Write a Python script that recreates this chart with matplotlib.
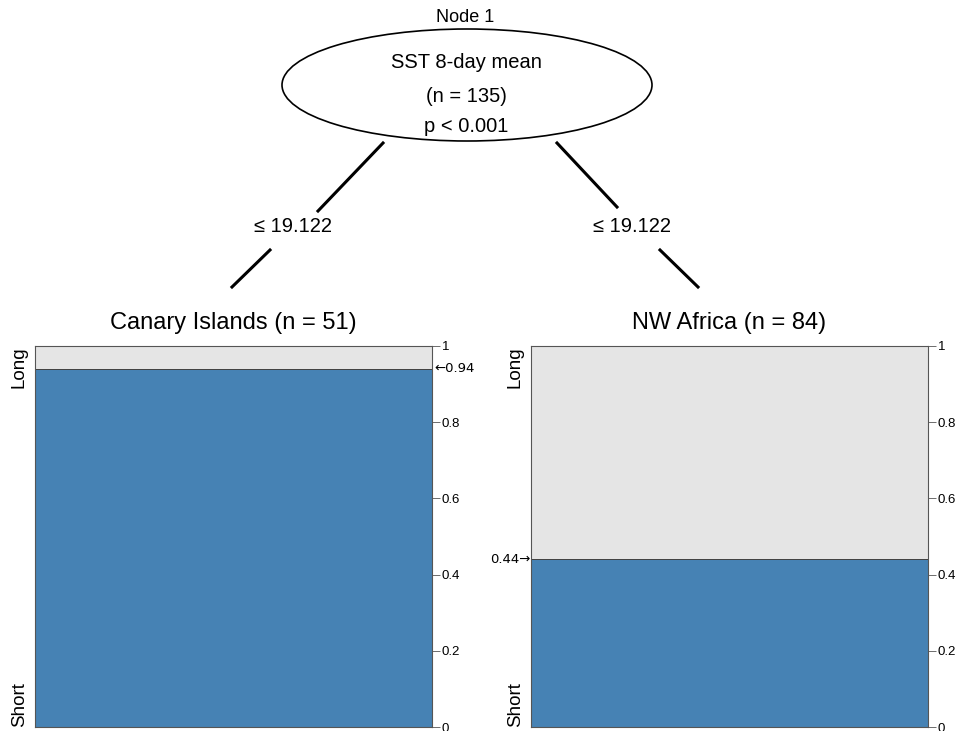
import matplotlib
matplotlib.use("Agg")
import matplotlib.pyplot as plt
from matplotlib.patches import Ellipse

# data
node_title = "Node 1"
node_lines = ["SST 8-day mean", "(n = 135)", "p < 0.001"]
split_labels = ["\u2264 19.122", "\u2264 19.122"]
leaf_titles = ["Canary Islands (n = 51)", "NW Africa (n = 84)"]
classes = ["Short", "Long"]
short_share = [0.94, 0.44]
yticks = [0, 0.2, 0.4, 0.6, 0.8, 1]
ytick_labels = ["0", "0.2", "0.4", "0.6", "0.8", "1"]

BLUE = "#4682b4"
GREY = "#e5e5e5"

W, H = 960, 731
fig = plt.figure(figsize=(W / 100, H / 100), dpi=100)
plt.rcParams['font.family'] = ['Liberation Sans', 'DejaVu Sans']

# --- tree part, drawn in pixel coordinates ---
tree = fig.add_axes([0, 0, 1, 1])
tree.set_xlim(0, W)
tree.set_ylim(H, 0)
tree.axis('off')

tree.add_patch(Ellipse((467, 85), 370, 112, facecolor='white',
                       edgecolor='black', linewidth=1.2))
tree.text(465, 18, node_title, ha='center', va='center', fontsize=13)
for y, s in zip([62, 97, 126], node_lines):
    tree.text(466, y, s, ha='center', va='center', fontsize=14.5)

# edges with a gap for the split label
tree.plot([383, 318], [143, 211], color='black', lw=2.2)
tree.plot([270, 232], [250, 287], color='black', lw=2.2)
tree.plot([557, 617], [143, 207], color='black', lw=2.2)
tree.plot([660, 698], [250, 287], color='black', lw=2.2)
tree.text(293, 227, split_labels[0], ha='center', va='center', fontsize=14.5)
tree.text(632, 227, split_labels[1], ha='center', va='center', fontsize=14.5)

# --- leaf panels ---
panel_x = [35, 531]
pw, ph = 397, 381
py = H - 727
for i, (x0, title, p) in enumerate(zip(panel_x, leaf_titles, short_share)):
    ax = fig.add_axes([x0 / W, py / H, pw / W, ph / H])
    ax.bar(0, p, width=1, color=BLUE, edgecolor='#333333', linewidth=0.6)
    ax.bar(0, 1 - p, bottom=p, width=1, color=GREY, edgecolor='#333333', linewidth=0.6)
    ax.set_xlim(-0.5, 0.5)
    ax.set_ylim(0, 1)
    ax.set_xticks([])
    ax.yaxis.tick_right()
    ax.set_yticks(yticks)
    ax.set_yticklabels(ytick_labels)
    ax.tick_params(axis='y', labelsize=9.5, length=6, width=0.6, color='#555555', pad=1)
    for sp in ax.spines.values():
        sp.set_edgecolor('#555555')
        sp.set_linewidth(0.8)
    tree.text(x0 + pw / 2, 323, title, ha='center', va='center', fontsize=17)

    # class names on the left side
    ax.text(-0.04, 1.0, classes[1], transform=ax.transAxes, rotation=90,
            ha='center', va='top', fontsize=13.5)
    ax.text(-0.04, 0.0, classes[0], transform=ax.transAxes, rotation=90,
            ha='center', va='bottom', fontsize=13.5)

    # arrow marking the share (DejaVu has a proper-size arrow glyph)
    if i == 0:
        ax.text(1.006, p, f"\u2190{p:.2f}", transform=ax.get_yaxis_transform(),
                ha='left', va='center', fontsize=9.5, family='DejaVu Sans')
    else:
        ax.text(-0.002, p, f"{p:.2f}\u2192", transform=ax.get_yaxis_transform(),
                ha='right', va='center', fontsize=9.5, family='DejaVu Sans')

fig.savefig("out.png", dpi=100)
